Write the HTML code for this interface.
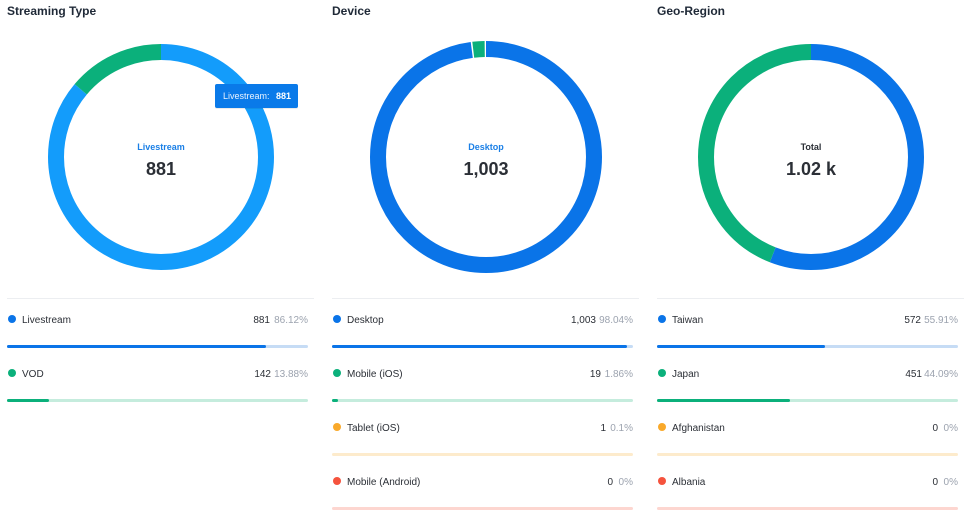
<!DOCTYPE html>
<html><head><style>
body{margin:0;background:#fff;font-family:"Liberation Sans",sans-serif;}
svg text{font-family:"Liberation Sans",sans-serif;}
</style></head><body>
<svg width="970" height="521" viewBox="0 0 970 521" xmlns="http://www.w3.org/2000/svg">
<g font-size="12" font-weight="bold" fill="#1f2937">
<text x="7" y="15">Streaming Type</text>
<text x="332" y="15">Device</text>
<text x="657" y="15">Geo-Region</text>
</g>
<g transform="translate(161,157) rotate(-90)" fill="none" stroke-width="16">
<circle r="105" stroke="#139cfb" stroke-dasharray="568.1 1000"/>
<circle r="105" stroke="#0bb07b" stroke-dasharray="0 568.1 91.6 1000"/>
</g>
<text x="161" y="150" text-anchor="middle" font-size="9" font-weight="bold" fill="#1a7fe6">Livestream</text>
<text x="161" y="175" text-anchor="middle" font-size="18" font-weight="bold" fill="#2b2f36">881</text>
<rect x="215" y="85" width="83" height="24" rx="2" fill="#000" opacity="0.08"/>
<rect x="215" y="84" width="83" height="24" rx="2" fill="#0a7ae9"/>
<text x="223" y="99" font-size="9" fill="#e8f2ff">Livestream:</text>
<text x="276" y="99" font-size="9" font-weight="bold" fill="#fff">881</text>
<g transform="translate(486,157) rotate(-90)" fill="none" stroke-width="16">
<circle r="108" stroke="#0a74e8" stroke-dasharray="664 1000"/>
<circle r="108" stroke="#0bb07b" stroke-dasharray="0 665.5 11.5 1000"/>
</g>
<text x="486" y="150" text-anchor="middle" font-size="9" font-weight="bold" fill="#1a7fe6">Desktop</text>
<text x="486" y="175" text-anchor="middle" font-size="18" font-weight="bold" fill="#2b2f36">1,003</text>
<g transform="translate(811,157) rotate(-90)" fill="none" stroke-width="16">
<circle r="105" stroke="#0a74e8" stroke-dasharray="368.9 1000"/>
<circle r="105" stroke="#0bb07b" stroke-dasharray="0 368.9 290.8 1000"/>
</g>
<text x="811" y="150" text-anchor="middle" font-size="9" font-weight="bold" fill="#2b2f36">Total</text>
<text x="811" y="175" text-anchor="middle" font-size="18" font-weight="bold" fill="#2b2f36">1.02 k</text>
<g fill="#eceef1">
<rect x="7" y="298" width="307" height="1"/>
<rect x="332" y="298" width="307" height="1"/>
<rect x="657" y="298" width="307" height="1"/>
</g>
<g font-size="10" fill="#2b2f36">
<circle cx="12" cy="319" r="4" fill="#0a74e8"/><text x="22" y="323">Livestream</text>
<text x="270" y="323" text-anchor="end">881</text><text x="308" y="323" text-anchor="end" fill="#9ca3af">86.12%</text>
<rect x="7" y="345" width="301" height="3" rx="1.5" fill="#c6dcf5"/><rect x="7" y="345" width="259" height="3" rx="1.5" fill="#0a74e8"/>
<circle cx="12" cy="373" r="4" fill="#0bb07b"/><text x="22" y="377">VOD</text>
<text x="271" y="377" text-anchor="end">142</text><text x="308" y="377" text-anchor="end" fill="#9ca3af">13.88%</text>
<rect x="7" y="399" width="301" height="3" rx="1.5" fill="#c5ecdd"/><rect x="7" y="399" width="42" height="3" rx="1.5" fill="#0bb07b"/>
<circle cx="337" cy="319" r="4" fill="#0a74e8"/><text x="347" y="323">Desktop</text>
<text x="596" y="323" text-anchor="end">1,003</text><text x="633" y="323" text-anchor="end" fill="#9ca3af">98.04%</text>
<rect x="332" y="345" width="301" height="3" rx="1.5" fill="#c6dcf5"/><rect x="332" y="345" width="295" height="3" rx="1.5" fill="#0a74e8"/>
<circle cx="337" cy="373" r="4" fill="#0bb07b"/><text x="347" y="377">Mobile (iOS)</text>
<text x="601" y="377" text-anchor="end">19</text><text x="633" y="377" text-anchor="end" fill="#9ca3af">1.86%</text>
<rect x="332" y="399" width="301" height="3" rx="1.5" fill="#c5ecdd"/><rect x="332" y="399" width="6" height="3" rx="1.5" fill="#0bb07b"/>
<circle cx="337" cy="427" r="4" fill="#f9a92b"/><text x="347" y="431">Tablet (iOS)</text>
<text x="606" y="431" text-anchor="end">1</text><text x="633" y="431" text-anchor="end" fill="#9ca3af">0.1%</text>
<rect x="332" y="453" width="301" height="3" rx="1.5" fill="#fdebcc"/>
<circle cx="337" cy="481" r="4" fill="#f5533d"/><text x="347" y="485">Mobile (Android)</text>
<text x="613" y="485" text-anchor="end">0</text><text x="633" y="485" text-anchor="end" fill="#9ca3af">0%</text>
<rect x="332" y="507" width="301" height="3" rx="1.5" fill="#fdd6d0"/>
<circle cx="662" cy="319" r="4" fill="#0a74e8"/><text x="672" y="323">Taiwan</text>
<text x="921" y="323" text-anchor="end">572</text><text x="958" y="323" text-anchor="end" fill="#9ca3af">55.91%</text>
<rect x="657" y="345" width="301" height="3" rx="1.5" fill="#c6dcf5"/><rect x="657" y="345" width="168" height="3" rx="1.5" fill="#0a74e8"/>
<circle cx="662" cy="373" r="4" fill="#0bb07b"/><text x="672" y="377">Japan</text>
<text x="922" y="377" text-anchor="end">451</text><text x="958" y="377" text-anchor="end" fill="#9ca3af">44.09%</text>
<rect x="657" y="399" width="301" height="3" rx="1.5" fill="#c5ecdd"/><rect x="657" y="399" width="133" height="3" rx="1.5" fill="#0bb07b"/>
<circle cx="662" cy="427" r="4" fill="#f9a92b"/><text x="672" y="431">Afghanistan</text>
<text x="938" y="431" text-anchor="end">0</text><text x="958" y="431" text-anchor="end" fill="#9ca3af">0%</text>
<rect x="657" y="453" width="301" height="3" rx="1.5" fill="#fdebcc"/>
<circle cx="662" cy="481" r="4" fill="#f5533d"/><text x="672" y="485">Albania</text>
<text x="938" y="485" text-anchor="end">0</text><text x="958" y="485" text-anchor="end" fill="#9ca3af">0%</text>
<rect x="657" y="507" width="301" height="3" rx="1.5" fill="#fdd6d0"/>
</g>
</svg>
</body></html>
